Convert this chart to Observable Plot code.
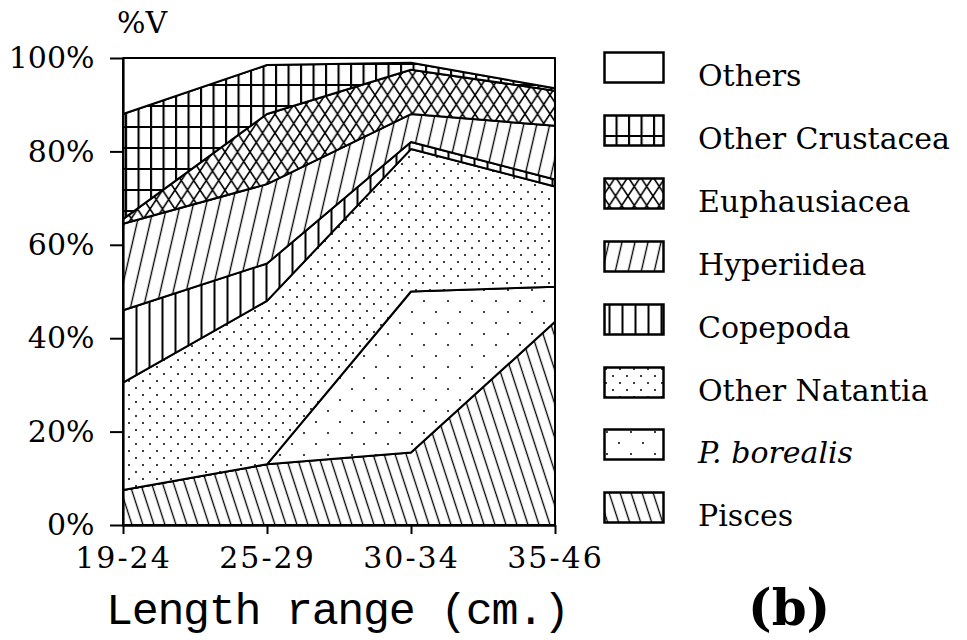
<!DOCTYPE html>
<html>
<head>
<meta charset="utf-8">
<script src="https://cdn.jsdelivr.net/npm/d3@7"></script>
<script src="https://cdn.jsdelivr.net/npm/@observablehq/plot@0.6"></script>
<style>
  body { margin: 0; background: #fff; }
  #wrap { position: relative; width: 967px; height: 640px; overflow: hidden; background: #fff; color: #000; font-family: "DejaVu Serif", serif; }
  #wrap svg.plot { display: block; position: absolute; left: 0; top: 0; }
  #wrap svg.plot g[aria-label="x-axis tick label"] text { letter-spacing: 2px; }
  .lbl { position: absolute; white-space: nowrap; line-height: 1; color: #000; }
  .legend-row { position: absolute; left: 603px; width: 364px; height: 40px; }
  .legend-row svg { position: absolute; left: 0; top: 0; }
  .legend-row span { position: absolute; left: 95px; font-size: 30px; line-height: 30px; white-space: nowrap; }
</style>
</head>
<body>
<svg width="0" height="0" style="position:absolute">
  <defs>
    <pattern id="pat-others" patternUnits="userSpaceOnUse" width="10" height="10">
      <rect width="10" height="10" fill="#fff"/>
    </pattern>
    <pattern id="pat-ocrust" patternUnits="userSpaceOnUse" width="12.5" height="21">
      <rect width="12.5" height="21" fill="#fff"/>
      <path d="M1,0V21M0,1H12.5" stroke="#000" stroke-width="2.2" fill="none"/>
    </pattern>
    <pattern id="pat-euph" patternUnits="userSpaceOnUse" width="12.5" height="19">
      <rect width="12.5" height="19" fill="#fff"/>
      <path d="M0,0L12.5,19M12.5,0L0,19" stroke="#000" stroke-width="1.6" fill="none"/>
    </pattern>
    <pattern id="pat-hyp" patternUnits="userSpaceOnUse" width="13" height="20" patternTransform="skewX(-13)">
      <rect x="-5" width="23" height="20" fill="#fff"/>
      <path d="M6.5,0V20" stroke="#000" stroke-width="1.4" fill="none"/>
    </pattern>
    <pattern id="pat-cop" patternUnits="userSpaceOnUse" width="13" height="20">
      <rect width="13" height="20" fill="#fff"/>
      <path d="M6.5,0V20" stroke="#000" stroke-width="2" fill="none"/>
    </pattern>
    <pattern id="pat-onat" patternUnits="userSpaceOnUse" width="14" height="14">
      <rect width="14" height="14" fill="#fff"/>
      <circle cx="3" cy="3" r="1" fill="#000"/>
      <circle cx="10" cy="10" r="1" fill="#000"/>
    </pattern>
    <pattern id="pat-pbor" patternUnits="userSpaceOnUse" width="24" height="22">
      <rect width="24" height="22" fill="#fff"/>
      <circle cx="4" cy="4" r="1" fill="#000"/>
      <circle cx="16" cy="15" r="1" fill="#000"/>
    </pattern>
    <pattern id="pat-pisces" patternUnits="userSpaceOnUse" width="11" height="20" patternTransform="skewX(18)">
      <rect x="-5" width="21" height="20" fill="#fff"/>
      <path d="M5.5,0V20" stroke="#000" stroke-width="1.4" fill="none"/>
    </pattern>
  </defs>
</svg>
<div id="wrap"></div>
<script>
// Length ranges (x categories)
const lengthRanges = ["19-24", "25-29", "30-34", "35-46"];
// Prey categories, stacked bottom to top
const species = ["Pisces", "P. borealis", "Other Natantia", "Copepoda", "Hyperiidea", "Euphausiacea", "Other Crustacea", "Others"];
// %V values for each length range
const pisces         = [7.5, 13, 15.5, 43.5];
const pBorealis      = [0, 0, 34.5, 7.5];
const otherNatantia  = [23, 35, 30.5, 21.5];
const copepoda       = [15.5, 8, 1.5, 1.5];
const hyperiidea     = [18.5, 17, 6, 11.5];
const euphausiacea   = [1, 15, 9.5, 7.5];
const otherCrustacea = [22.5, 10.5, 1.5, 0.5];
const others         = [12, 1.5, 1, 6.5];
const yTicks = [0, 20, 40, 60, 80, 100];

const seriesValues = [pisces, pBorealis, otherNatantia, copepoda, hyperiidea, euphausiacea, otherCrustacea, others];
const patternIds = ["pat-pisces", "pat-pbor", "pat-onat", "pat-cop", "pat-hyp", "pat-euph", "pat-ocrust", "pat-others"];
const fills = patternIds.map(id => `url(#${id})`);

const rows = [];
species.forEach((s, i) => {
  lengthRanges.forEach((r, j) => rows.push({species: s, range: r, value: seriesValues[i][j]}));
});

const plot = Plot.plot({
  width: 967,
  height: 640,
  marginLeft: 122,
  marginRight: 411,
  marginTop: 58,
  marginBottom: 115,
  style: {fontFamily: "'DejaVu Serif', serif", fontSize: "30px", background: "transparent", color: "#000"},
  x: {type: "point", domain: lengthRanges, padding: 0},
  y: {domain: [0, 100]},
  color: {type: "ordinal", domain: species, range: fills},
  marks: [
    Plot.areaY(rows, Plot.stackY({
      x: "range", y: "value", z: "species", fill: "species", order: species,
      stroke: "#000", strokeWidth: 2, strokeLinejoin: "round", curve: "linear"
    })),
    Plot.ruleY([0], {stroke: "#000", strokeWidth: 2.5}),
    Plot.ruleX([lengthRanges[0]], {stroke: "#000", strokeWidth: 2.2}),
    Plot.axisX({tickSize: 9, tickPadding: 12, label: null, strokeWidth: 2, fontSize: 30}),
    Plot.axisY({ticks: yTicks, tickFormat: d => d + "%", tickSize: 12, tickPadding: 16, label: null, strokeWidth: 2, fontSize: 30})
  ]
});
plot.classList.add("plot");
const wrap = document.getElementById("wrap");
wrap.appendChild(plot);

// Y label
const yl = document.createElement("div");
yl.className = "lbl";
yl.textContent = "%V";
Object.assign(yl.style, {left: "117px", top: "8px", fontSize: "30px", fontFamily: "'DejaVu Serif', serif"});
wrap.appendChild(yl);

// X axis title
const xl = document.createElement("div");
xl.className = "lbl";
xl.textContent = "Length range (cm.)";
Object.assign(xl.style, {left: "106px", top: "590px", fontSize: "45px", letterSpacing: "-1.3px", fontFamily: "'Liberation Mono', monospace"});
wrap.appendChild(xl);

// Panel label
const pl = document.createElement("div");
pl.className = "lbl";
pl.textContent = "(b)";
Object.assign(pl.style, {left: "748px", top: "583px", fontSize: "50px", fontWeight: "bold", fontFamily: "'DejaVu Serif', serif"});
wrap.appendChild(pl);

// Legend (top to bottom = Others ... Pisces)
const legendOrder = species.slice().reverse();
const rowStep = 62.9;
legendOrder.forEach((s, k) => {
  const idx = species.indexOf(s);
  const boxTop = 51 + k * rowStep;
  const row = document.createElement("div");
  row.className = "legend-row";
  row.style.top = boxTop + "px";
  const ns = "http://www.w3.org/2000/svg";
  const sw = document.createElementNS(ns, "svg");
  sw.setAttribute("width", 64);
  sw.setAttribute("height", 36);
  const rect = document.createElementNS(ns, "rect");
  rect.setAttribute("x", 1.5);
  rect.setAttribute("y", 1.5);
  rect.setAttribute("width", 59);
  rect.setAttribute("height", 30);
  rect.setAttribute("fill", fills[idx]);
  rect.setAttribute("stroke", "#000");
  rect.setAttribute("stroke-width", 2.5);
  sw.appendChild(rect);
  row.appendChild(sw);
  const t = document.createElement("span");
  t.textContent = s;
  t.style.top = (33 + 2 - 25) + "px";
  if (s === "P. borealis") t.style.fontStyle = "italic";
  row.appendChild(t);
  wrap.appendChild(row);
});
</script>
</body>
</html>
